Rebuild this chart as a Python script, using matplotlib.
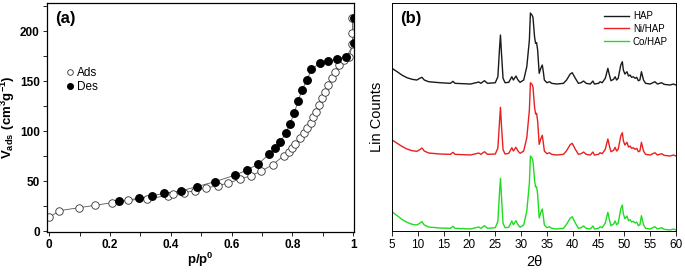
import numpy as np
import matplotlib
matplotlib.use('Agg')
import matplotlib.pyplot as plt
from matplotlib.ticker import MultipleLocator, FuncFormatter

plt.rcParams['font.family'] = ['Liberation Sans', 'DejaVu Sans']
plt.rcParams['mathtext.fontset'] = 'custom'
plt.rcParams['mathtext.rm'] = 'Liberation Sans'
plt.rcParams['mathtext.bf'] = 'Liberation Sans:bold'

# (a) N2 isotherm
ads_p = [0.001, 0.033, 0.098, 0.152, 0.206, 0.261, 0.321, 0.390, 0.409, 0.444,
         0.479, 0.516, 0.555, 0.589, 0.627, 0.663, 0.697, 0.735, 0.772, 0.788,
         0.800, 0.810, 0.824, 0.838, 0.849, 0.861, 0.869, 0.877, 0.887, 0.899,
         0.909, 0.918, 0.929, 0.940, 0.954, 0.970, 0.987, 0.998, 0.998, 0.998]
ads_v = [13.7, 20.3, 23.3, 25.7, 28.3, 30.7, 32.3, 35.3, 36.7, 38.3,
         40.3, 43.0, 45.3, 48.0, 51.7, 55.3, 59.7, 66.3, 75.3, 79.3,
         82.7, 87.0, 92.7, 97.7, 102.7, 108.3, 114.3, 119.3, 126.0, 132.7,
         139.3, 146.0, 152.7, 159.3, 166.0, 171.0, 173.7, 186.7, 198.3, 212.7]
des_p = [0.231, 0.297, 0.337, 0.378, 0.433, 0.485, 0.545, 0.613, 0.651, 0.688,
         0.724, 0.744, 0.761, 0.778, 0.792, 0.806, 0.819, 0.832, 0.848, 0.863,
         0.890, 0.919, 0.947, 0.978, 1.003, 1.003]
des_v = [30.0, 32.7, 35.0, 37.7, 40.0, 44.3, 49.3, 56.0, 61.0, 67.0,
         77.0, 82.7, 89.3, 97.7, 106.7, 117.7, 130.0, 141.0, 151.0, 161.7,
         167.7, 170.0, 171.7, 174.0, 187.7, 212.7]

# (b) XRD patterns (arbitrary counts)
two_theta = [5.0, 6.0, 6.9, 7.9, 8.9, 9.8, 10.35, 10.8, 11.25, 12.1,
             14.3, 16.3, 16.8, 17.2, 20.2, 21.8, 22.2, 22.9, 23.5, 25.0,
             25.5, 25.8, 26.0, 26.2, 26.5, 26.9, 27.6, 28.2, 28.5, 29.0,
             29.4, 29.8, 30.5, 31.1, 31.6, 31.8, 32.1, 32.3, 32.6, 32.8,
             33.0, 33.2, 33.5, 33.8, 34.1, 34.3, 34.5, 35.0, 35.5, 35.9,
             36.9, 38.2, 38.8, 39.5, 39.9, 40.5, 41.1, 41.6, 42.1, 42.6,
             43.4, 43.9, 44.2, 45.0, 45.3, 45.7, 46.3, 46.8, 47.1, 47.4,
             47.9, 48.2, 48.5, 48.8, 49.3, 49.6, 49.8, 50.1, 50.5, 50.8,
             51.1, 51.4, 51.7, 52.1, 52.4, 52.7, 53.0, 53.3, 53.7, 54.1,
             55.0, 55.9, 56.4, 57.2, 57.7, 58.8, 59.5, 60.0]
hap = [167, 133, 100, 73, 57, 50, 67, 77, 50, 33,
       23, 17, 37, 17, 10, 30, 17, 43, 17, 23,
       83, 350, 500, 317, 67, 23, 27, 83, 50, 90,
       50, 27, 50, 183, 450, 720, 700, 677, 483, 417,
       423, 350, 117, 167, 200, 133, 50, 23, 33, 17,
       10, 17, 50, 110, 123, 67, 17, 23, 40, 17,
       10, 40, 10, 17, 33, 23, 67, 167, 100, 43,
       57, 83, 50, 67, 200, 233, 150, 110, 133, 90,
       100, 77, 83, 67, 77, 43, 50, 133, 50, 17,
       10, 33, 10, 23, 7, 0, 10, 0]
ni_hap = [160, 127, 97, 70, 53, 47, 63, 80, 50, 30,
          20, 17, 37, 17, 10, 30, 17, 43, 17, 20,
          80, 330, 487, 300, 63, 20, 27, 83, 50, 87,
          50, 27, 50, 183, 460, 733, 717, 690, 490, 420,
          427, 350, 117, 170, 207, 133, 50, 23, 33, 17,
          10, 17, 53, 113, 127, 67, 17, 23, 40, 17,
          10, 40, 10, 17, 33, 23, 67, 170, 100, 43,
          57, 87, 50, 67, 200, 233, 153, 110, 137, 90,
          100, 77, 83, 67, 77, 43, 50, 137, 50, 17,
          10, 33, 10, 23, 7, 0, 10, 0]
co_hap = [183, 143, 107, 77, 57, 50, 67, 83, 50, 30,
          20, 17, 37, 17, 10, 30, 17, 43, 17, 23,
          87, 360, 517, 330, 67, 23, 27, 90, 53, 93,
          53, 27, 50, 190, 470, 740, 720, 690, 497, 430,
          433, 357, 120, 173, 210, 137, 50, 23, 33, 17,
          10, 17, 57, 117, 133, 70, 17, 23, 40, 17,
          10, 40, 10, 17, 33, 23, 70, 177, 103, 43,
          60, 90, 53, 70, 210, 250, 160, 113, 140, 93,
          103, 80, 87, 70, 80, 43, 53, 143, 53, 17,
          10, 33, 10, 23, 7, 0, 10, 0]

series_names = ['HAP', 'Ni/HAP', 'Co/HAP']
series_colors = ['#1a1a1a', '#e8201e', '#1fdc1f']
offsets = [1450, 740, 0]

fig = plt.figure(figsize=(6.85, 2.76), dpi=100)

# ---- panel (a)
ax1 = fig.add_axes([0.0682, 0.1594, 0.4486, 0.8297])
ax1.plot(ads_p, ads_v, '-', color='#555555', lw=0.6, zorder=1)
ax1.plot(des_p, des_v, '-', color='#555555', lw=0.6, zorder=1)
ax1.plot(ads_p, ads_v, 'o', ms=5.4, mfc='white', mec='#333333', mew=0.6, zorder=2, label='Ads')
ax1.plot(des_p, des_v, 'o', ms=5.4, mfc='black', mec='black', zorder=3, label='Des')
ax1.set_xlim(-0.008, 1.003)
ax1.set_ylim(-1, 228)
ax1.xaxis.set_major_locator(MultipleLocator(0.2))
ax1.xaxis.set_minor_locator(MultipleLocator(0.1))
ax1.yaxis.set_major_locator(MultipleLocator(50))
ax1.yaxis.set_minor_locator(MultipleLocator(25))
ax1.xaxis.set_major_formatter(FuncFormatter(lambda v, pos: '%g' % round(v, 1)))
ax1.tick_params(which='both', direction='out', length=3, width=0.6, labelsize=8.5, pad=2)
ax1.tick_params(top=False, right=False)
for lab in ax1.get_xticklabels() + ax1.get_yticklabels():
    lab.set_fontweight('bold')
for s in ax1.spines.values():
    s.set_linewidth(0.9)
ax1.set_xlabel(r'$\mathbf{p/p^{0}}$', fontsize=9.5, labelpad=0)
ax1.set_ylabel(r'$\mathbf{V_{ads}\ (cm^{3}g^{-1})}$', fontsize=9.5, labelpad=2)
ax1.text(0.027, 0.965, '(a)', transform=ax1.transAxes, fontsize=12, fontweight='bold',
         va='top', ha='left')
ax1.legend(loc='upper left', bbox_to_anchor=(0.045, 0.745), frameon=False, fontsize=8.5,
           handlelength=0.6, handletextpad=0.3, labelspacing=0.15, borderpad=0,
           markerscale=0.75)

# ---- panel (b)
ax2 = fig.add_axes([0.5723, 0.163, 0.4146, 0.826])
for name, vals, col, off in zip(series_names, [hap, ni_hap, co_hap], series_colors, offsets):
    ax2.plot(two_theta, np.array(vals) + off, color=col, lw=1.0, label=name)
ax2.set_xlim(5, 60)
ax2.set_ylim(-10, 2270)
ax2.xaxis.set_major_locator(MultipleLocator(5))
ax2.set_yticks([])
ax2.tick_params(axis='x', direction='out', length=3.5, width=0.6, labelsize=8.5, pad=2)
for s in ax2.spines.values():
    s.set_linewidth(0.7)
ax2.set_xlabel('2θ', fontsize=10.5, labelpad=3)
ax2.set_ylabel('Lin Counts', fontsize=10.5, labelpad=6)
ax2.text(0.03, 0.965, '(b)', transform=ax2.transAxes, fontsize=12, fontweight='bold',
         va='top', ha='left')
ax2.legend(loc='upper right', bbox_to_anchor=(0.995, 0.995), frameon=False, fontsize=7,
           handlelength=2.6, handletextpad=0.4, labelspacing=0.3, borderpad=0.2)

fig.savefig('out.png', dpi=100)
